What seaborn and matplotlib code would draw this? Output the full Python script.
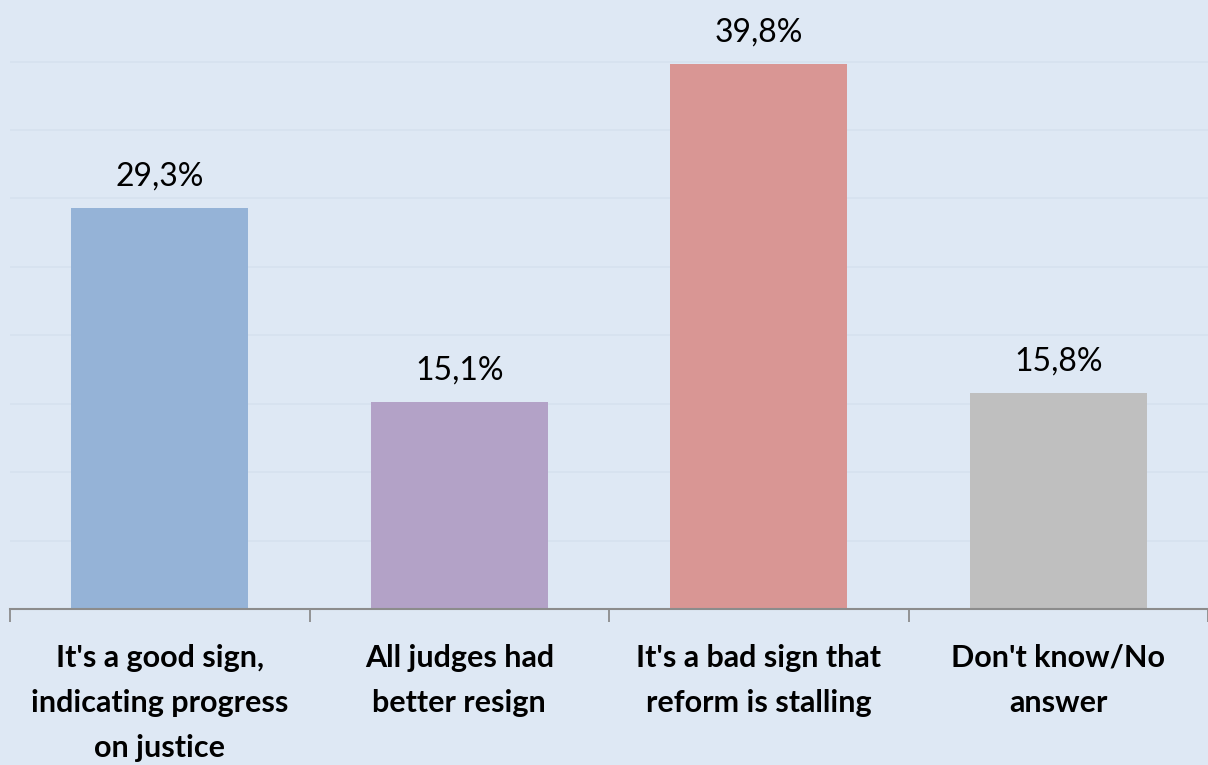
import matplotlib
matplotlib.use("Agg")
import matplotlib.pyplot as plt
import numpy as np
import pandas as pd
import seaborn as sns

# data
categories = [
    "It's a good sign,\nindicating progress\non justice",
    "All judges had\nbetter resign",
    "It's a bad sign that\nreform is stalling",
    "Don't know/No\nanswer",
]
values = [29.3, 15.1, 39.8, 15.8]
bar_colors = ["#95B3D7", "#B3A2C7", "#D99694", "#BFBFBF"]
bg_color = "#DEE8F4"

df = pd.DataFrame({"answer": categories, "share": values})

sns.set_theme(style="white")
plt.rcParams["font.family"] = ["Lato", "DejaVu Sans"]

fig = plt.figure(figsize=(12.08, 7.65), dpi=100, facecolor=bg_color)
ax = fig.add_axes([0.0083, 0.204, 0.9917, 0.796])
ax.set_facecolor(bg_color)

sns.barplot(data=df, x="answer", y="share", hue="answer",
            palette=bar_colors, legend=False, width=0.59,
            saturation=1, linewidth=0, ax=ax)

# value labels with comma decimals
for cont, v in zip(ax.containers, values):
    ax.bar_label(cont, labels=[f"{v:.1f}%".replace(".", ",")],
                 padding=12, fontsize=23, color="black")

ax.set_xlim(-0.5, 3.5)
ax.set_ylim(0, 44.5)
ax.set_yticks(np.arange(5, 45, 5))
ax.set_yticklabels([])
ax.tick_params(axis="y", length=0)
ax.grid(axis="y", color="#D6E1EE", linewidth=1.2)
ax.set_axisbelow(True)

# category labels centred, tick marks at category boundaries
ax.set_xticks(range(len(categories)))
ax.set_xticklabels(categories, fontsize=22, fontweight="bold",
                   linespacing=1.75, color="black")
ax.tick_params(axis="x", which="major", length=0, pad=25)
ax.set_xticks(np.arange(-0.5, 4.0, 1.0), minor=True)
ax.tick_params(axis="x", which="minor", bottom=True, length=9, width=1.3,
               color="#8C8C8C", direction="out")
ax.set_xlabel("")
ax.set_ylabel("")

for side in ["top", "right", "left"]:
    ax.spines[side].set_visible(False)
ax.spines["bottom"].set_color("#8C8C8C")
ax.spines["bottom"].set_linewidth(1.5)

fig.savefig("out.png", dpi=100, facecolor=bg_color)
